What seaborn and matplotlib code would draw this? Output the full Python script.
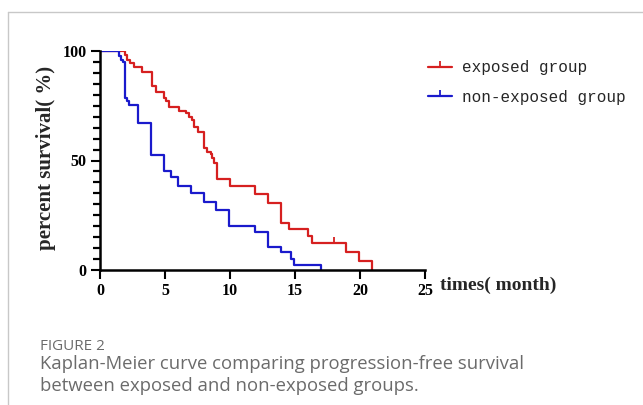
import numpy as np
import pandas as pd
import matplotlib
matplotlib.use("Agg")
import matplotlib.pyplot as plt
from matplotlib.lines import Line2D
from matplotlib.ticker import FixedLocator, NullLocator
import seaborn as sns

# Kaplan-Meier steps (time in months, survival in %)
exposed_t = [0, 1.9, 2.1, 2.3, 2.6, 3.2, 4.0, 4.3, 4.9, 5.1, 5.3, 6.05, 6.6, 6.85,
             7.1, 7.2, 7.5, 8.0, 8.25, 8.5, 8.65, 8.8, 9.0, 10.0, 11.95, 12.9,
             13.95, 14.5, 16.0, 16.3, 18.9, 19.9, 20.9]
exposed_s = [100, 98, 96, 94.5, 92.5, 90.5, 84, 81.5, 78.5, 77, 74.5, 72.5, 71.5, 70,
             68.5, 65.5, 63, 55.5, 54, 53, 51, 49, 41.5, 38.5, 34.5, 30.5,
             21.5, 18.5, 15.5, 12.5, 8, 4, 0]
exposed_cens_t = [18.0]
exposed_cens_s = [12.5]

nonexp_t = [0, 1.45, 1.6, 1.75, 1.9, 2.1, 2.25, 2.95, 3.95, 4.9, 5.45, 6.0, 7.0,
            8.0, 8.9, 9.9, 11.9, 12.9, 13.9, 14.7, 14.95, 17.0]
nonexp_s = [100, 97.5, 96, 94.8, 78.5, 77, 75.5, 67, 52.5, 45, 42.5, 38.5, 35,
            31, 27.2, 20.3, 17.3, 10.3, 8, 5.1, 2.4, 0]

groups = ["exposed group", "non-exposed group"]
colors = ["#d62020", "#1a1acc"]
x_ticks = [0, 5, 10, 15, 20, 25]
y_ticks = [0, 50, 100]
y_minor = [v for v in range(0, 101, 5) if v not in y_ticks]

df = pd.concat([
    pd.DataFrame({"time": exposed_t, "surv": exposed_s, "group": groups[0]}),
    pd.DataFrame({"time": nonexp_t, "surv": nonexp_s, "group": groups[1]}),
])

sns.set_style("ticks")
plt.rcParams["font.family"] = ["Liberation Serif", "DejaVu Serif"]
plt.rcParams["ytick.minor.visible"] = True

W, H = 643, 405
fig = plt.figure(figsize=(W / 100, H / 100), dpi=100)

def fx(px):
    return px / W

def fy(py):
    return 1 - py / H

# card border (top and left)
fig.add_artist(Line2D([fx(8), 1], [fy(12), fy(12)], color="#c8c8c8", lw=1))
fig.add_artist(Line2D([fx(8), fx(8)], [fy(12), 0], color="#c8c8c8", lw=1))

ax = fig.add_axes([fx(100), fy(270), (425 - 100) / W, (270 - 51) / H])
sns.lineplot(data=df, x="time", y="surv", hue="group", palette=colors,
             drawstyle="steps-post", lw=1.6, legend=False, ax=ax,
             estimator=None, sort=False)

tick_marker = [(0, 0), (0, 1)]
ax.plot(exposed_cens_t, exposed_cens_s, ls="none", marker=tick_marker,
        markersize=9, markeredgewidth=1.3, color=colors[0])

ax.set_xlim(0, 25)
ax.set_ylim(0, 100)
ax.set_xticks(x_ticks)
ax.xaxis.set_minor_locator(NullLocator())
ax.set_yticks(y_ticks)
ax.yaxis.set_minor_locator(FixedLocator(y_minor))
for s in ["top", "right"]:
    ax.spines[s].set_visible(False)
for s in ["left", "bottom"]:
    ax.spines[s].set_linewidth(1.8)
    ax.spines[s].set_color("black")
ax.tick_params(axis="both", which="major", direction="out", length=6.5,
               width=1.5, pad=3, labelsize=11.5, colors="black")
ax.tick_params(axis="y", which="minor", direction="out", left=True,
               length=5, width=1.6, color="black")
for lab in ax.get_xticklabels() + ax.get_yticklabels():
    lab.set_fontweight("bold")
ax.set_xlabel("")
ax.set_ylabel("")

fig.text(fx(46), fy(158), "percent survival( %)", rotation=90, ha="center",
         va="center", fontsize=15, fontweight="bold")
fig.text(fx(440), fy(285), "times( month)", ha="left", va="center",
         fontsize=14, fontweight="bold")

handles = [Line2D([], [], color=c, lw=1.6, marker=tick_marker, markersize=9,
                  markeredgewidth=1.3) for c in colors]
leg = ax.legend(handles, groups, loc="upper left", bbox_to_anchor=(fx(414), fy(46)),
                bbox_transform=fig.transFigure, frameon=False, handlelength=1.5,
                handletextpad=0.6, labelspacing=0.9,
                prop={"family": "Liberation Mono", "size": 11.5})

fig.text(fx(40), fy(347), "FIGURE 2", ha="left", va="center", fontsize=11,
         color="#6b6b6b", family="Open Sans")
fig.text(fx(40), fy(364), "Kaplan-Meier curve comparing progression-free survival",
         ha="left", va="center", fontsize=13.3, color="#6b6b6b", family="Open Sans")
fig.text(fx(40), fy(386), "between exposed and non-exposed groups.",
         ha="left", va="center", fontsize=13.3, color="#6b6b6b", family="Open Sans")

fig.savefig("out.png", dpi=100)
